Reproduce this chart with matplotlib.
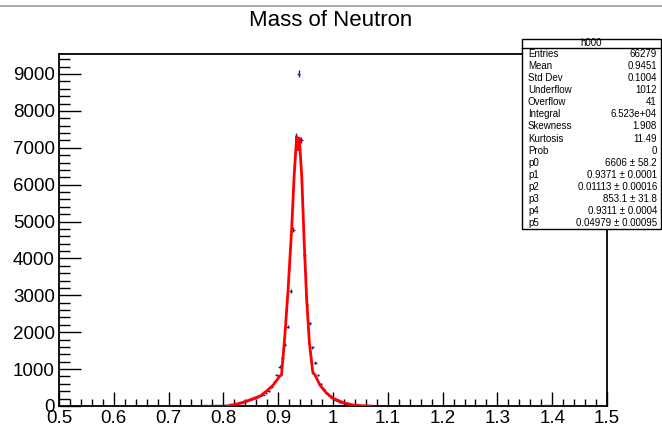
import numpy as np
import matplotlib
matplotlib.use("Agg")
import matplotlib.pyplot as plt
from matplotlib.lines import Line2D
from matplotlib.ticker import MultipleLocator

# histogram h000: bin centres (width 0.005) and contents
bin_width = 0.005
bin_centers = [
    0.7625, 0.7675, 0.7725, 0.7775, 0.7825, 0.7875, 0.7925, 0.7975, 0.8025, 0.8075,
    0.8125, 0.8175, 0.8225, 0.8275, 0.8325, 0.8375, 0.8425, 0.8475, 0.8525, 0.8575,
    0.8625, 0.8675, 0.8725, 0.8775, 0.8825, 0.8875, 0.8925, 0.8975, 0.9025, 0.9075,
    0.9125, 0.9175, 0.9225, 0.9275, 0.9325, 0.9375, 0.9425, 0.9475, 0.9525, 0.9575,
    0.9625, 0.9675, 0.9725, 0.9775, 0.9825, 0.9875, 0.9925, 0.9975, 1.0025, 1.0075,
    1.0125, 1.0175, 1.0225, 1.0275, 1.0325, 1.0375, 1.0425, 1.0475, 1.0525, 1.0575,
    1.0625, 1.3525, 1.3625, 1.3775, 1.3875, 1.3975, 1.4125, 1.4275,
]
counts = [
    10, 15, 12, 18, 20, 25, 22, 30, 35, 40,
    45, 50, 60, 75, 90, 105, 125, 150, 180, 215,
    245, 275, 305, 345, 407, 524, 660, 841, 1067, 1293,
    1655, 2152, 3128, 4775, 7325, 9000, 7216, 4097, 2740, 2243,
    1592, 1175, 841, 588, 460, 360, 280, 225, 175, 140,
    105, 80, 60, 45, 35, 25, 20, 15, 12, 10,
    8, 12, 10, 15, 18, 14, 12, 10,
]

# fit curve vertices as drawn (red polyline)
fit_x = [0.809, 0.830, 0.848, 0.867, 0.879, 0.891, 0.903, 0.906, 0.912, 0.918,
         0.9245, 0.929, 0.9337, 0.9367, 0.9385, 0.943, 0.947, 0.952, 0.957, 0.963,
         0.964, 0.967, 0.976, 0.9885, 1.0005, 1.019, 1.037, 1.055, 1.07]
fit_y = [0, 73, 163, 271, 407, 570, 814, 841, 1880, 3147,
         4775, 6220, 7306, 6945, 7262, 6220, 4593, 2876, 1700, 931,
         887, 850, 570, 344, 208, 90, 27, 5, 0]

stats_rows = [
    ("Entries", "66279"),
    ("Mean", "0.9451"),
    ("Std Dev", "0.1004"),
    ("Underflow", "1012"),
    ("Overflow", "41"),
    ("Integral", "6.523e+04"),
    ("Skewness", "1.908"),
    ("Kurtosis", "11.49"),
    ("Prob", "0"),
    ("p0", "6606 \u00b1 58.2"),
    ("p1", "0.9371 \u00b1 0.0001"),
    ("p2", "0.01113 \u00b1 0.00016"),
    ("p3", "853.1 \u00b1 31.8"),
    ("p4", "0.9311 \u00b1 0.0004"),
    ("p5", "0.04979 \u00b1 0.00095"),
]

plt.rcParams["font.family"] = ["Liberation Sans", "DejaVu Sans"]

fig = plt.figure(figsize=(6.62, 4.32), dpi=100)
ax = fig.add_axes([59 / 662, 26 / 432, 548 / 662, 352 / 432])

# data points with ROOT-style error crosses
x = np.array(bin_centers)
y = np.array(counts, dtype=float)
ax.errorbar(x, y, xerr=bin_width / 2, yerr=np.sqrt(y), fmt="none",
            ecolor="#1f1f8f", elinewidth=1.0, capsize=0, zorder=3)

# fit function
ax.plot(fit_x, fit_y, color="red", lw=2.0, zorder=4)

ax.set_xlim(0.5, 1.5)
ax.set_ylim(0, 9542)

ax.xaxis.set_minor_locator(MultipleLocator(0.02))
ax.yaxis.set_minor_locator(MultipleLocator(200))
ax.tick_params(axis="x", which="major", direction="in", length=10, width=1, pad=3, labelsize=13.5)
ax.tick_params(axis="x", which="minor", direction="in", length=5, width=1)
ax.tick_params(axis="y", which="major", direction="in", length=16, width=1, pad=3, labelsize=13.5)
ax.tick_params(axis="y", which="minor", direction="in", length=8, width=1)
ax.set_xticks(np.round(np.arange(0.5, 1.51, 0.1), 1))
ax.set_xticklabels(["0.5", "0.6", "0.7", "0.8", "0.9", "1", "1.1", "1.2", "1.3", "1.4", "1.5"])
ax.set_yticks(np.arange(0, 9001, 1000))
ax.set_yticklabels([str(v) for v in range(0, 9001, 1000)])
for s in ax.spines.values():
    s.set_linewidth(1.3)

fig.text(0.5, 1 - 20 / 432, "Mass of Neutron", ha="center", va="center", fontsize=16)

# thin grey line along the top of the canvas
fig.add_artist(Line2D([0, 1], [1 - 6 / 432, 1 - 6 / 432], color="#999999", lw=1.2,
                      transform=fig.transFigure))

# stats box
bx0, bx1 = 522 / 662, 661 / 662
by1, by0 = 1 - 39 / 432, 1 - 229 / 432
hdr = 1 - 48 / 432
box = plt.Rectangle((bx0, by0), bx1 - bx0, by1 - by0, transform=fig.transFigure,
                    facecolor="white", edgecolor="black", lw=1.0, zorder=10)
fig.add_artist(box)
fig.add_artist(Line2D([bx0, bx1], [hdr, hdr], color="black", lw=1.0,
                      transform=fig.transFigure, zorder=11))
fig.text((bx0 + bx1) / 2, (by1 + hdr) / 2, "h000", ha="center", va="center",
         fontsize=7, zorder=12)
row_h = (hdr - by0) / len(stats_rows)
for i, (name, val) in enumerate(stats_rows):
    yc = hdr - (i + 0.5) * row_h
    fig.text(bx0 + 6 / 662, yc, name, ha="left", va="center", fontsize=7, zorder=12)
    fig.text(bx1 - 4 / 662, yc, val, ha="right", va="center", fontsize=7, zorder=12)

fig.savefig("out.png", dpi=100)
